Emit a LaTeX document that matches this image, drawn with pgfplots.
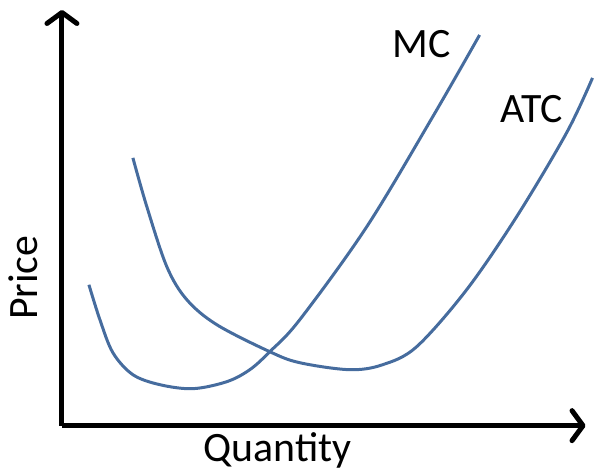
\documentclass[border=0pt]{standalone}
\usepackage{pgfplots}
\pgfplotsset{compat=1.18}
\usetikzlibrary{arrows.meta}
\usepackage{fontspec}
\setmainfont{Carlito}

\definecolor{curveblue}{RGB}{70,108,158}

\begin{document}
\begin{tikzpicture}
  \begin{axis}[
      x=1bp, y=1bp,
      xmin=62, xmax=586,
      ymin=41, ymax=457,
      axis lines=left,
      axis line style={line width=5bp, -{Straight Barb[length=11bp, width=30bp, line cap=round, line join=round]}},
      ticks=none,
      clip=false,
    ]

    % keep the page at the reference's size
    \path (axis cs:0,0) rectangle (axis cs:594,467);

    % marginal cost
    \addplot[curveblue, line width=3bp, smooth, tension=0.55] coordinates {
      (89,182) (100,147) (113,114) (133,92) (160,82) (193,78) (227,85)
      (250,97) (270,115) (300,147) (367,240) (433,350) (480,432)
    };

    % average total cost
    \addplot[curveblue, line width=3bp, smooth, tension=0.55] coordinates {
      (133,309) (147,260) (167,200) (187,167) (217,142) (270,115) (300,104)
      (350,97) (383,102) (417,120) (467,177) (517,250) (567,334) (593,389)
    };

    \node[anchor=base, font=\fontsize{42}{50}\selectfont] at (axis cs:422,409) {MC};
    \node[anchor=base, font=\fontsize{42}{50}\selectfont] at (axis cs:532,344) {ATC};
    \node[anchor=base, font=\fontsize{42}{50}\selectfont] at (axis cs:278,5) {Quantity};
    \node[anchor=base, rotate=90, font=\fontsize{42}{50}\selectfont] at (axis cs:38,189) {Price};
  \end{axis}
\end{tikzpicture}
\end{document}
